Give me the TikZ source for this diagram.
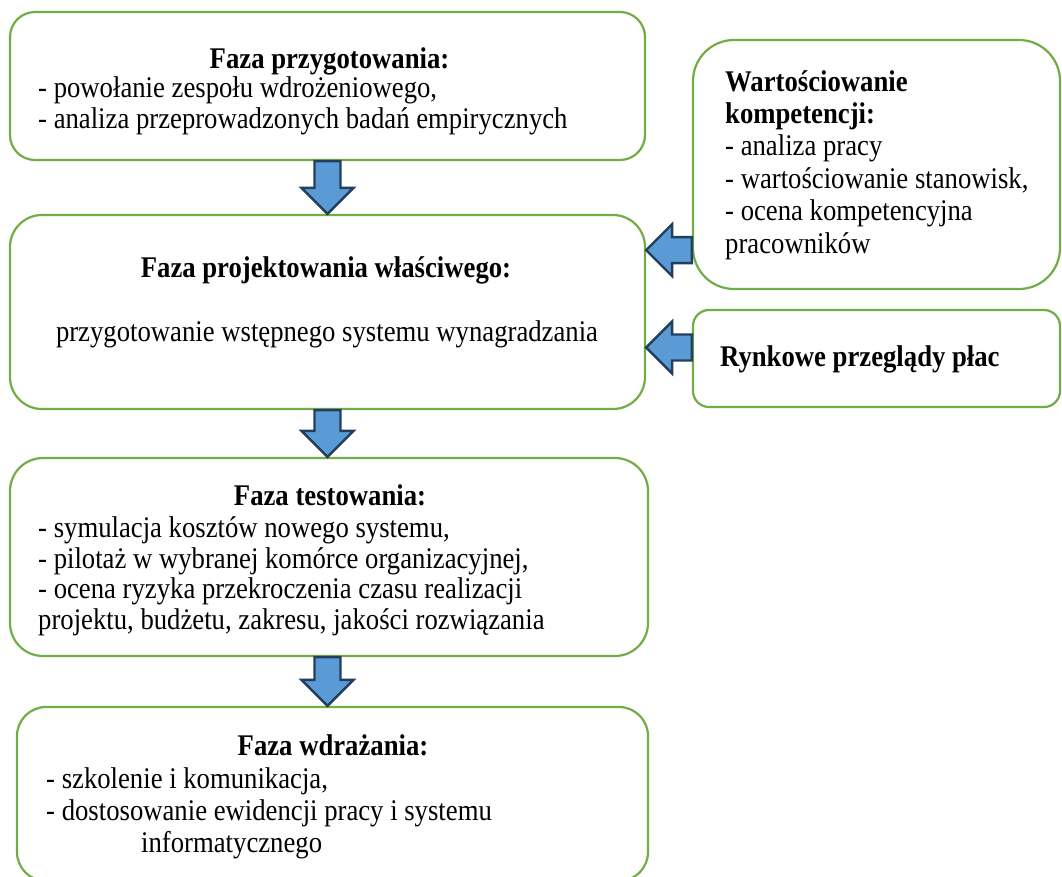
\documentclass[tikz,border=0pt]{standalone}
\usepackage{fontspec}
\setmainfont[FakeStretch=0.89]{Liberation Serif}
\usetikzlibrary{calc}

\definecolor{boxgreen}{HTML}{70AD47}
\definecolor{arrowblue}{HTML}{5B9BD5}
\definecolor{arrowdark}{HTML}{223F5E}

\tikzset{
  phase/.style={draw=boxgreen, line width=2.2pt, inner sep=0pt},
  blockarrow/.style={fill=arrowblue, draw=arrowdark, line width=2.4pt, line join=miter},
  txt/.style={inner sep=0pt, align=left, font=\fontsize{30}{31}\selectfont},
  ttl/.style={inner sep=0pt, font=\fontsize{30}{31}\selectfont\bfseries}
}

% block arrow: #1 = tail, #2 = tip
\newcommand{\bigarrow}[2]{%
  \path ($(#2)!26pt!(#1)$) coordinate (hb);
  \draw[blockarrow] ($(#1)!13pt!90:(#2)$) -- ($(hb)!13pt!90:(#2)$) -- ($(hb)!26pt!90:(#2)$)
    -- (#2) -- ($(hb)!26pt!-90:(#2)$) -- ($(hb)!13pt!-90:(#2)$) -- ($(#1)!13pt!-90:(#2)$) -- cycle;
}

\begin{document}
\begin{tikzpicture}[x=1pt,y=-1pt]
\useasboundingbox (0,0) rectangle (1062,876);

% boxes
\node[phase, rounded corners=25pt, minimum width=635pt, minimum height=148pt] (prep) at (327.5,86) {};
\node[phase, rounded corners=32pt, minimum width=635pt, minimum height=194pt] (proj) at (327.5,312) {};
\node[phase, rounded corners=33pt, minimum width=638pt, minimum height=198pt] (test) at (329,557) {};
\node[phase, rounded corners=29pt, minimum width=631pt, minimum height=174pt] (impl) at (332.5,794) {};
\node[phase, rounded corners=41pt, minimum width=367pt, minimum height=249pt] (valu) at (876.5,164.5) {};
\node[phase, rounded corners=16pt, minimum width=367pt, minimum height=97pt] (market) at (876.5,358.5) {};

% texts (base = last line)
\node[ttl, anchor=base] (prept) at (329.5,68) {Faza przygotowania:};
\node[txt, anchor=base west] (prepl) at (38,128) {- powołanie zespołu wdrożeniowego,\\- analiza przeprowadzonych badań empirycznych};

\node[ttl, anchor=base] (projt) at (326,277) {Faza projektowania właściwego:};
\node[txt, anchor=base] (projl) at (327,341) {przygotowanie wstępnego systemu wynagradzania};

\node[ttl, anchor=base] (testt) at (330,505) {Faza testowania:};
\node[txt, anchor=base west, font=\fontsize{30}{30.5}\selectfont] (testl) at (38,629) {- symulacja kosztów nowego systemu,\\- pilotaż w wybranej komórce organizacyjnej,\\- ocena ryzyka przekroczenia czasu realizacji\\projektu, budżetu, zakresu, jakości rozwiązania};

\node[ttl, anchor=base] (implt) at (333,755) {Faza wdrażania:};
\node[txt, anchor=base west, font=\fontsize{30}{32}\selectfont] (impll) at (46,852) {- szkolenie i komunikacja,\\- dostosowanie ewidencji pracy i systemu\\\hspace*{95pt}informatycznego};

\node[txt, anchor=base west, font=\fontsize{30}{32.4}\selectfont] (valul) at (725,253) {\textbf{Wartościowanie}\\\textbf{kompetencji:}\\- analiza pracy\\- wartościowanie stanowisk,\\- ocena kompetencyjna\\pracowników};

\node[ttl, anchor=base west] (marketl) at (720,366) {Rynkowe przeglądy płac};

% arrows
\coordinate (vin) at ($(valu.south west)+(0,-40)$);
\coordinate (min) at ($(market.west)+(0,-11)$);
\bigarrow{prep.south}{prep.south |- proj.north}
\bigarrow{proj.south}{proj.south |- test.north}
\bigarrow{proj.south |- test.south}{proj.south |- impl.north}
\bigarrow{vin}{proj.east |- vin}
\bigarrow{min}{proj.east |- min}
\end{tikzpicture}
\end{document}
